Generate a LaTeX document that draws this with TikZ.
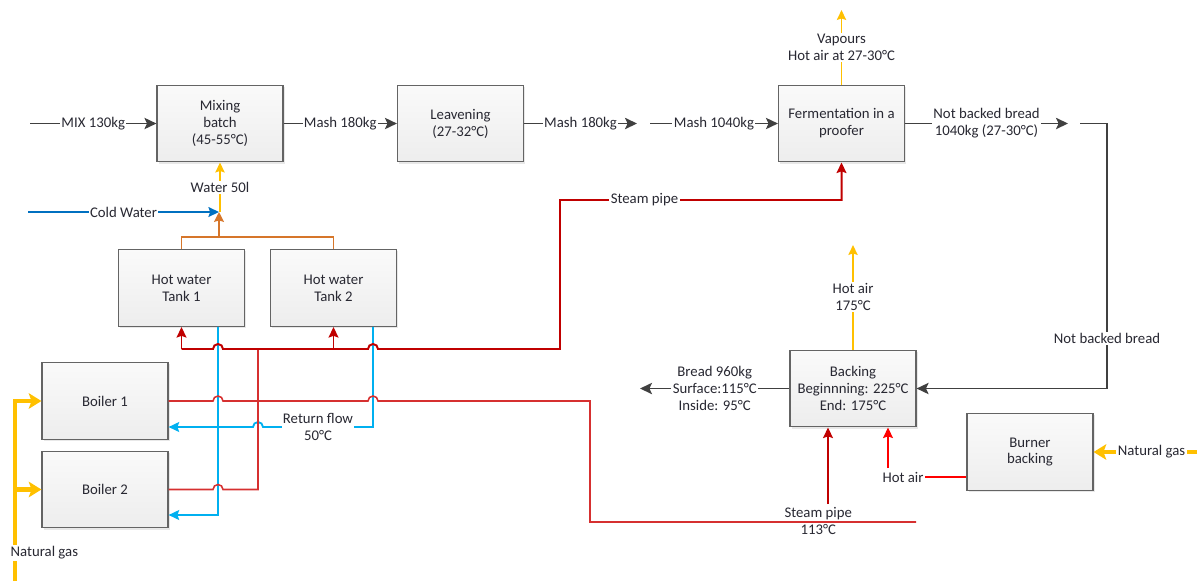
\documentclass[tikz,border=0pt]{standalone}
\usepackage{fontspec}
\setmainfont{Carlito}
\usepackage{tikz}
\usetikzlibrary{arrows.meta,positioning,calc,shadows}
\usepackage{xcolor}
\definecolor{cFlow}{RGB}{64,64,64}
\definecolor{cSteam}{RGB}{192,0,0}
\definecolor{cPipe}{RGB}{214,48,48}
\definecolor{cHot}{RGB}{255,0,0}
\definecolor{cGas}{RGB}{255,192,0}
\definecolor{cCold}{RGB}{0,112,192}
\definecolor{cRet}{RGB}{0,176,240}
\definecolor{cMixW}{RGB}{214,118,42}
\definecolor{cEdge}{RGB}{100,100,100}
\definecolor{cText}{RGB}{40,40,50}
\tikzset{
  basefont/.style={font=\fontsize{10.5}{12}\selectfont,text=cText},
  procbox/.style={rectangle,basefont,draw=cEdge,line width=0.8pt,
                  top color=gray!4,bottom color=gray!14,
                  drop shadow={shadow xshift=1.3pt,shadow yshift=-1.3pt,fill=black!18},
                  minimum width=3.15cm,minimum height=1.92cm,align=center},
  lbl/.style={basefont,fill=white,inner sep=1pt,align=center},
  flowline/.style={line width=1.4pt,color=cFlow},
  flowarr/.style={flowline,-{Stealth[length=8.5pt,width=8pt,inset=1.8pt]}},
  steamarr/.style={-{Stealth[length=7.5pt,width=7pt,inset=1.2pt]},line width=1.4pt,color=cSteam},
  pipeline/.style={line width=1.1pt,color=cPipe},
  hotline/.style={line width=1.3pt,color=cHot},
  hotarr/.style={hotline,-{Stealth[length=7.5pt,width=7pt,inset=1.2pt]}},
  gasarr/.style={-{Stealth[length=7pt,width=6.5pt,inset=1pt]},line width=1.3pt,color=cGas},
  bigarr/.style={-{Stealth[length=9pt,width=11pt,inset=2pt]},line width=3.2pt,color=cGas},
  coldarr/.style={-{Stealth[length=7.5pt,width=7pt,inset=1.2pt]},line width=1.3pt,color=cCold},
  retarr/.style={-{Stealth[length=7.5pt,width=7pt,inset=1.2pt]},line width=1.3pt,color=cRet},
  mixwline/.style={line width=1.4pt,color=cMixW},
  mixwarr/.style={mixwline,-{Stealth[length=7pt,width=7pt,inset=1pt]}}
}

\begin{document}
\begin{tikzpicture}[x=0.025cm,y=-0.025cm]
  \useasboundingbox (0,0) rectangle (1200,581);

  % process boxes
  \node[procbox] (mix)   at (220,123.5)   {Mixing\\batch\\(45-55°C)};
  \node[procbox] (leav)  at (460.5,123.5) {Leavening\\(27-32°C)};
  \node[procbox] (ferm)  at (841.5,123.5) {Fermentation in a\\proofer};
  \node[procbox] (tank1) at (181.5,288)   {Hot water\\Tank 1};
  \node[procbox] (tank2) at (333.5,288)   {Hot water\\Tank 2};
  \node[procbox] (boil1) at (105,401)     {Boiler 1};
  \node[procbox] (boil2) at (105,489.5)   {Boiler 2};
  \node[procbox] (bake)  at (853,388.5)   {Backing\\Beginnning: 225°C\\End: 175°C};
  \node[procbox] (burn)  at (1030,452)    {Burner\\backing};

  % free ends
  \coordinate (mixin)    at (30,123.5);
  \coordinate (m1end)    at (637,123.5);
  \coordinate (m2in)     at (650,123.5);
  \coordinate (nbend)    at (1068,123.5);
  \coordinate (nbin)     at (1080,123.5);
  \coordinate (vapout)   at (841.5,10);
  \coordinate (hotout)   at (853,245);
  \coordinate (breadout) at (640,388.5);
  \coordinate (cwin)     at (28,212);
  \coordinate (wtop)     at (219,212);
  \coordinate (wsplit)   at (219,238);
  \coordinate (ngin)     at (15,581);
  \coordinate (ngr)      at (1197,452);
  \coordinate (spend)    at (916,522);
  \coordinate (spfrom)   at (828,504);
  \coordinate (hafrom)   at (888,468);
  \coordinate (sjoin)    at (0,349);
  \coordinate (sup)      at (0,200);

  % product line
  \draw[flowarr] (mixin) -- node[lbl]{MIX 130kg} (mix.west);
  \draw[flowarr] (mix) -- node[lbl]{Mash 180kg} (leav);
  \draw[flowarr] (leav) -- node[lbl]{Mash 180kg} (m1end);
  \draw[flowarr] (m2in) -- node[lbl]{Mash 1040kg} (ferm.west);
  \draw[flowarr] (ferm) -- node[lbl]{Not backed bread\\1040kg (27-30°C)} (nbend);
  \draw[flowarr] (nbin) -- (1107,123.5) -- node[lbl,pos=0.81]{Not backed bread} (1107,388.5) -- (bake.east);
  \draw[flowarr] (bake.west) -- node[lbl]{Bread 960kg\\Surface:115°C\\Inside: 95°C} (breadout);

  % vapours and hot air out
  \draw[gasarr] (ferm.north) -- node[lbl]{Vapours\\Hot air at 27-30°C} (vapout);
  \draw[gasarr] (bake.north) -- node[lbl]{Hot air\\175°C} (hotout);

  % water to mixing
  \draw[mixwline] (tank1.north) -- ++(0,-12) -| (tank2.north);
  \draw[mixwarr] (wsplit) -- (wtop);
  \draw[gasarr] (mix.south |- wtop) -- node[lbl]{Water 50l} (mix.south);
  \draw[coldarr] (cwin) -- node[lbl]{Cold Water} (wtop);

  % return flow
  \draw[retarr] ($(tank1.south)+(36.5,0)$) -- (218,515) -- ($(boil2.east)+(0,25.5)$);
  \draw[retarr] ($(tank2.south)+(39.5,0)$) -- (373,427) -- node[lbl]{Return flow\\50°C} (263,427)
    arc[start angle=0,end angle=180,radius=0.125cm] -- ($(boil1.east)+(0,26)$);

  % steam network
  \draw[pipeline] (boil2.east) -- (213,489.5) arc[start angle=180,end angle=0,radius=0.125cm]
    -- (258,489.5) -- (258,349);
  \draw[pipeline] (boil1.east) -- (213,401) arc[start angle=180,end angle=0,radius=0.125cm]
    -- (368,401) arc[start angle=180,end angle=0,radius=0.125cm] -- (590,401) -- (590,522)
    -- node[pos=0.7,above,lbl,fill=none]{Steam pipe} node[pos=0.7,below,lbl,fill=none]{113°C} (spend);
  \draw[steamarr] (tank1.south |- sjoin) -- (213,349) arc[start angle=180,end angle=0,radius=0.125cm]
    -- (368,349) arc[start angle=180,end angle=0,radius=0.125cm] -- (560,349) -- (560,200)
    -- node[lbl,pos=0.3]{Steam pipe} (ferm.south |- sup) -- (ferm.south);
  \draw[steamarr] (tank1.south |- sjoin) -- (tank1.south);
  \draw[steamarr] (tank2.south |- sjoin) -- (tank2.south);
  \draw[steamarr] (spfrom) -- (spfrom |- bake.south);

  % burner
  \node[lbl] (hal) at (903,477) {Hot air};
  \draw[hotline] (burn.west |- hal) -- (hal.east);
  \draw[hotarr] (hafrom) -- (hafrom |- bake.south);
  \draw[bigarr] (ngr) -- node[lbl,pos=0.44]{Natural gas} (burn.east);

  % natural gas to boilers
  \draw[bigarr] (ngin) |- (boil1.west);
  \draw[bigarr] (ngin |- boil2.west) -- (boil2.west);
  \node[lbl,anchor=west] (ngl) at (9,553) {Natural gas};
\end{tikzpicture}
\end{document}
